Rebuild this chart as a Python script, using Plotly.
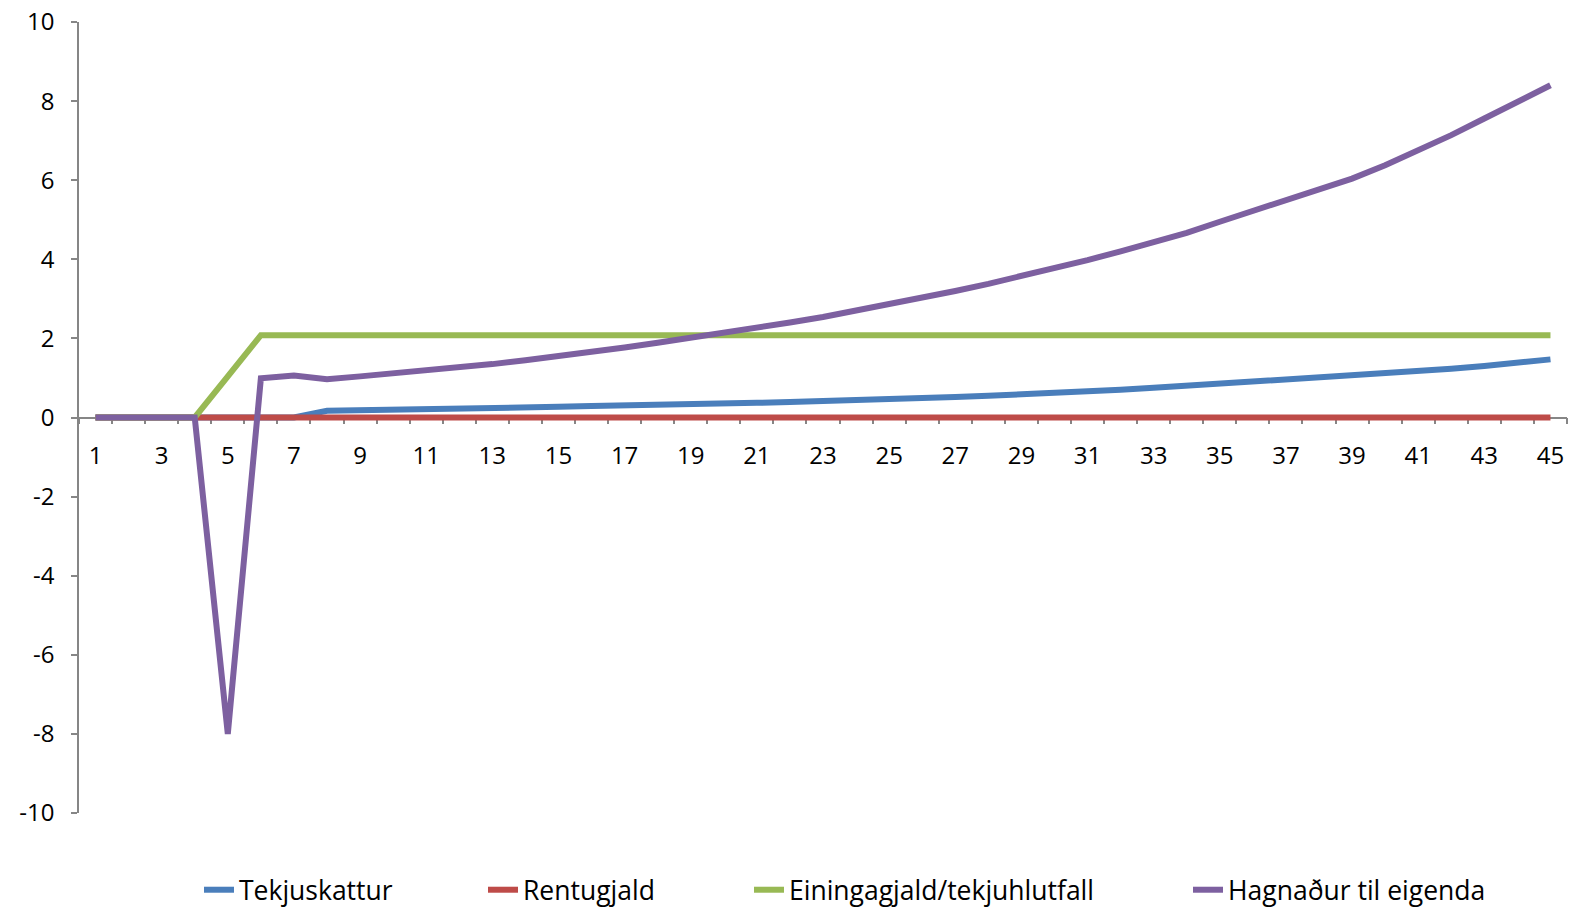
import plotly.graph_objects as go

categories = list(range(1, 46))
tick_labels = [str(c) for c in categories[::2]]
y_ticks = list(range(-10, 11, 2))
y_tick_labels = [str(v) for v in y_ticks]  # plain hyphen-minus as in the reference

tekjuskattur = [0, 0, 0, 0, 0, 0, 0, 0.17, 0.18, 0.20, 0.21, 0.23, 0.24, 0.26, 0.27,
                0.29, 0.30, 0.32, 0.33, 0.35, 0.37, 0.39, 0.41, 0.44, 0.46, 0.49, 0.52,
                0.55, 0.58, 0.62, 0.66, 0.70, 0.75, 0.80, 0.86, 0.91, 0.96, 1.01, 1.06,
                1.11, 1.17, 1.23, 1.30, 1.38, 1.47]
rentugjald = [0] * 45
einingagjald = [0, 0, 0, 0, 1.04] + [2.08] * 40
hagnadur = [0, 0, 0, 0, -8.0, 0.99, 1.06, 0.97, 1.04, 1.11, 1.18, 1.26, 1.35, 1.45,
            1.55, 1.66, 1.77, 1.89, 2.01, 2.13, 2.26, 2.40, 2.54, 2.70, 2.86, 3.02,
            3.20, 3.38, 3.57, 3.77, 3.98, 4.20, 4.43, 4.67, 4.95, 5.22, 5.48, 5.75,
            6.04, 6.38, 6.75, 7.14, 7.56, 7.98, 8.40]

series = [
    ("Tekjuskattur", tekjuskattur, "#4A7EBB", "legend", 238),
    ("Rentugjald", rentugjald, "#BE4B48", "legend2", 522),
    ("Einingagjald/tekjuhlutfall", einingagjald, "#98B954", "legend3", 788),
    ("Hagnaður til eigenda", hagnadur, "#7D60A0", "legend4", 1227),
]

FONT = "Open Sans"
fig = go.Figure()
for name, vals, color, lg, _ in series:
    fig.add_trace(go.Scatter(
        x=categories, y=vals, mode="lines", name=name,
        line=dict(color=color, width=6), legend=lg, showlegend=True,
    ))

W, H = 1574, 907
legend_layout = {}
for name, vals, color, lg, text_x in series:
    legend_layout[lg] = dict(
        xref="container", yref="container",
        x=(text_x - 39) / W, y=1 - 866 / H,
        xanchor="left", yanchor="top",
        orientation="h", bgcolor="rgba(0,0,0,0)",
        font=dict(family=FONT, size=26.5, color="#000000"),
        itemwidth=30,
    )

fig.update_layout(
    width=W, height=H,
    margin=dict(l=79, r=7, t=22, b=94),
    paper_bgcolor="white", plot_bgcolor="white",
    font=dict(family=FONT, size=24, color="#000000"),
    **legend_layout,
)

fig.update_xaxes(
    range=[0.5, 45.5],
    tickmode="array", tickvals=categories[::2], ticktext=tick_labels,
    ticks="", showgrid=False, zeroline=False,
    showline=True, linecolor="#868686", linewidth=1.5,
    anchor="free", position=0.5, layer="below traces",
    automargin=False,
    ticklabelstandoff=17,
    tickfont=dict(family=FONT, size=24, color="#000000"),
    minor=dict(ticks="outside", tickvals=[c + 0.5 for c in [0] + categories],
               ticklen=6, tickcolor="#868686", tickwidth=1.5, showgrid=False),
)
fig.update_yaxes(
    range=[-10, 10], tickmode="array", tickvals=y_ticks, ticktext=y_tick_labels,
    ticks="outside", ticklen=6, tickcolor="#868686", tickwidth=1.5,
    showgrid=False, zeroline=False,
    showline=True, linecolor="#868686", linewidth=1.5, layer="below traces",
    automargin=False,
    ticklabelstandoff=12,
    tickfont=dict(family=FONT, size=24, color="#000000"),
)

fig.write_html(
    "out.html",
    config={"displayModeBar": False},
    post_script="document.body.style.margin='0';document.body.style.overflow='hidden';",
)
